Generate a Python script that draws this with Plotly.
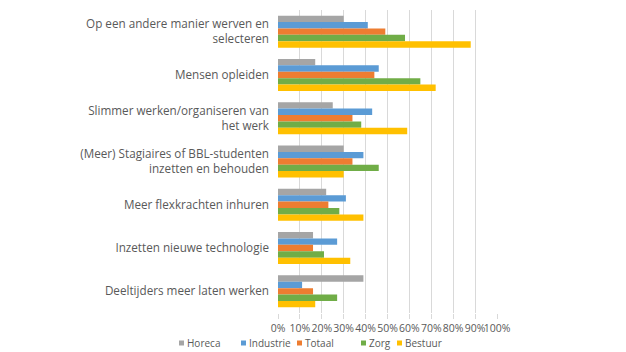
import plotly.graph_objects as go

categories = [
    "Op een andere manier werven en<br>selecteren",
    "Mensen opleiden",
    "Slimmer werken/organiseren van<br>het werk",
    "(Meer) Stagiaires of BBL-studenten<br>inzetten en behouden",
    "Meer flexkrachten inhuren",
    "Inzetten nieuwe technologie",
    "Deeltijders meer laten werken",
]
horeca    = [0.30, 0.17, 0.25, 0.30, 0.22, 0.16, 0.39]
industrie = [0.41, 0.46, 0.43, 0.39, 0.31, 0.27, 0.11]
totaal    = [0.49, 0.44, 0.34, 0.34, 0.23, 0.16, 0.16]
zorg      = [0.58, 0.65, 0.38, 0.46, 0.28, 0.21, 0.27]
bestuur   = [0.88, 0.72, 0.59, 0.30, 0.39, 0.33, 0.17]

series = [
    ("Horeca", horeca, "#A5A5A5"),
    ("Industrie", industrie, "#5B9BD5"),
    ("Totaal", totaal, "#ED7D31"),
    ("Zorg", zorg, "#70AD47"),
    ("Bestuur", bestuur, "#FFC000"),
]

L, R, T, B = 278, 129, 10, 39
W, H = 626, 352
pw = W - L - R
ph = H - T - B

fig = go.Figure()
for name, vals, col in series:
    fig.add_trace(go.Bar(y=categories, x=vals, name=name, orientation="h",
                         marker=dict(color=col, line=dict(width=0)),
                         showlegend=False))

font_family = "Open Sans, Lato, sans-serif"
txt = "#595959"

def px_x(px):
    return (px - L) / pw

def px_y(py):
    return (H - B - py) / ph

# legend drawn as squares + text (left pixel of each symbol)
legend_px = [179, 241, 297, 361, 397]
ly = 343
for (name, vals, col), px in zip(series, legend_px):
    fig.add_shape(type="rect", xref="paper", yref="paper",
                  x0=px_x(px), x1=px_x(px + 5), y0=px_y(ly + 2.5), y1=px_y(ly - 2.5),
                  fillcolor=col, line=dict(width=0))
    fig.add_annotation(
        xref="paper", yref="paper",
        x=px_x(px + 6), y=px_y(ly),
        xanchor="left", yanchor="middle", showarrow=False,
        text=name,
        font=dict(family=font_family, size=10, color=txt),
    )

fig.update_layout(
    width=W, height=H,
    margin=dict(l=L, r=R, t=T, b=B, autoexpand=False),
    barmode="group", bargap=0.26, bargroupgap=0,
    plot_bgcolor="white", paper_bgcolor="white",
    font=dict(family=font_family, size=11, color=txt),
    xaxis=dict(range=[0, 1], dtick=0.1, tickformat=".0%", showgrid=True,
               gridcolor="#D9D9D9", gridwidth=1, zeroline=False,
               ticks="outside", ticklen=5, tickcolor="#D9D9D9", tickangle=0,
               automargin=False,
               tickfont=dict(size=10.5, color=txt), showline=False),
    yaxis=dict(autorange="reversed", showgrid=False, ticks="", ticklabelstandoff=8,
               automargin=False,
               tickfont=dict(size=11.7, color=txt), showline=False),
    showlegend=False,
)

fig.write_html("out.html")
